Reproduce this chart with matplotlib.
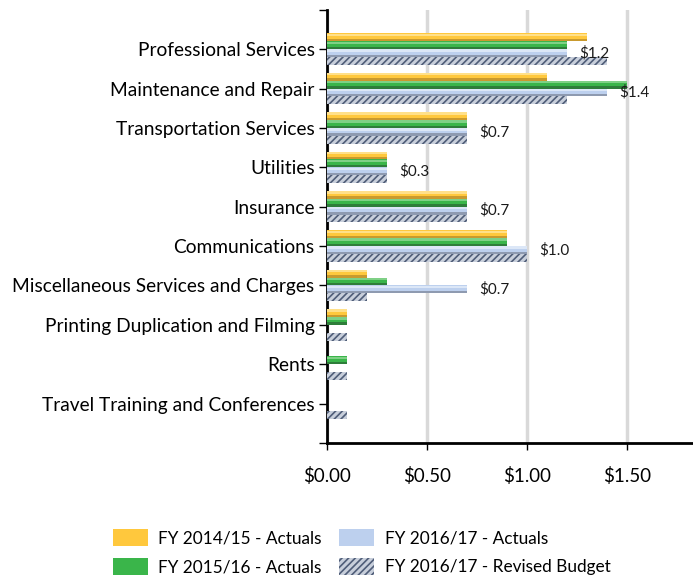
import matplotlib
matplotlib.use("Agg")
import matplotlib.pyplot as plt
import numpy as np
from matplotlib.patches import Patch

plt.rcParams['font.family'] = ['Lato', 'DejaVu Sans']
plt.rcParams['hatch.linewidth'] = 1.2

categories = ["Professional Services", "Maintenance and Repair", "Transportation Services",
              "Utilities", "Insurance", "Communications", "Miscellaneous Services and Charges",
              "Printing Duplication and Filming", "Rents", "Travel Training and Conferences"]
fy1415 = [1.3, 1.1, 0.7, 0.3, 0.7, 0.9, 0.2, 0.1, 0.0, 0.0]
fy1516 = [1.2, 1.5, 0.7, 0.3, 0.7, 0.9, 0.3, 0.1, 0.1, 0.0]
fy1617 = [1.2, 1.4, 0.7, 0.3, 0.7, 1.0, 0.7, 0.0, 0.0, 0.0]
fy1617_budget = [1.4, 1.2, 0.7, 0.3, 0.7, 1.0, 0.2, 0.1, 0.1, 0.1]
series_names = ["FY 2014/15 - Actuals", "FY 2015/16 - Actuals",
                "FY 2016/17 - Actuals", "FY 2016/17 - Revised Budget"]
xticks = [0.0, 0.5, 1.0, 1.5]
xticklabels = ["$0.00", "$0.50", "$1.00", "$1.50"]

fig = plt.figure(figsize=(6.93, 5.78), dpi=100)
ax = fig.add_axes([0.472, 0.2336, 0.5266, 0.7494])

y = np.arange(len(categories))
h = 0.2
styles = [
    dict(base="#FFC83D", light="#FFE08A", dark="#C99A2E", hatch=None),
    dict(base="#3AB54A", light="#7FD086", dark="#2E7D3A", hatch=None),
    dict(base="#BDD0EE", light="#DCE7F7", dark="#8E9AB0", hatch=None),
    dict(base="#C8CFDB", light="#C8CFDB", dark="#C8CFDB", hatch="/////"),
]
data = [fy1415, fy1516, fy1617, fy1617_budget]
offsets = [-0.3, -0.1, 0.1, 0.3]

for vals, off, st in zip(data, offsets, styles):
    vals = np.array(vals)
    if st["hatch"]:
        ax.barh(y + off, vals, height=h, color=st["base"], edgecolor="#4F5D78",
                hatch=st["hatch"], linewidth=0, zorder=3)
    else:
        ax.barh(y + off, vals, height=h, color=st["base"], linewidth=0, zorder=3)
        ax.barh(y + off - 0.065, vals, height=0.06, color=st["light"], linewidth=0, zorder=4)
        ax.barh(y + off + 0.07, vals, height=0.06, color=st["dark"], linewidth=0, zorder=4)

for yi, v in zip(y, fy1617):
    if v > 0:
        ax.annotate(f"${v:.1f}", xy=(v, yi + 0.1), xytext=(9, 0), textcoords="offset points",
                    ha="left", va="center", fontsize=11, color="#1a1a1a", zorder=5)

ax.set_xlim(0, 1.825)
ax.set_ylim(10, -1)
ax.set_yticks(np.arange(-1, 11))
ax.set_yticklabels([""] + categories + [""], fontsize=13.8)
ax.set_xticks(xticks)
ax.set_xticklabels(xticklabels, fontsize=13.5)
ax.tick_params(axis="y", length=6, width=1, pad=3, colors="black")
ax.tick_params(axis="x", length=5, width=1, pad=12)
ax.xaxis.grid(True, color="#D9D9D9", linewidth=2.5, zorder=0)
ax.set_axisbelow(True)
for s in ["top", "right"]:
    ax.spines[s].set_visible(False)
ax.spines["left"].set_linewidth(2)
ax.spines["bottom"].set_linewidth(2)

handles = [Patch(facecolor=styles[0]["base"]), Patch(facecolor=styles[1]["base"]),
           Patch(facecolor=styles[2]["base"]),
           Patch(facecolor=styles[3]["base"], edgecolor="#4F5D78", hatch="/////", linewidth=0)]
fig.legend(handles, series_names, loc="lower left", bbox_to_anchor=(0.14, -0.022), ncol=2,
           frameon=False, fontsize=12.4, handlelength=2.05, handleheight=1.15,
           columnspacing=1.0, handletextpad=0.6, labelspacing=0.68)

fig.savefig("out.png", dpi=100)
